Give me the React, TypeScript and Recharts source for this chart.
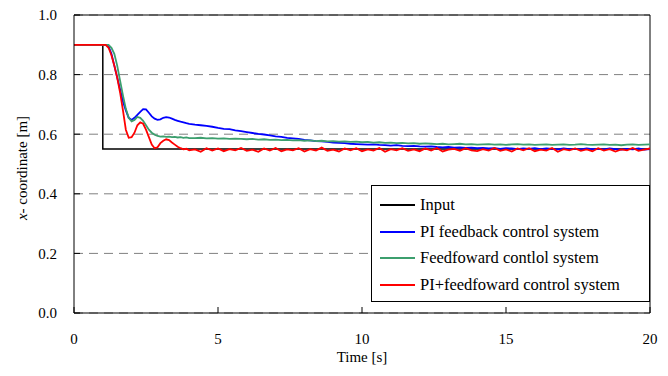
import { LineChart, Line, XAxis, YAxis, CartesianGrid, ReferenceLine, Legend } from 'recharts'

const FONT = 'Liberation Serif, Times New Roman, DejaVu Serif, serif'

// time axis [s]
const time = [
  0, 1, 1.1, 1.2, 1.3, 1.4, 1.5, 1.6, 1.7, 1.8, 1.9, 2, 2.1, 2.2, 2.3, 2.4, 2.5, 2.6, 2.7, 2.8, 2.9,
  3, 3.1, 3.2, 3.3, 3.4, 3.5, 3.6, 3.7, 3.8, 3.9, 4,
  4.2, 4.4, 4.6, 4.8, 5, 5.2, 5.4, 5.6, 5.8, 6, 6.2, 6.4, 6.6, 6.8, 7, 7.2, 7.4, 7.6, 7.8, 8,
  8.2, 8.4, 8.6, 8.8, 9, 9.2, 9.4, 9.6, 9.8, 10, 10.2, 10.4, 10.6, 10.8, 11, 11.2, 11.4, 11.6, 11.8, 12,
  12.2, 12.4, 12.6, 12.8, 13, 13.2, 13.4, 13.6, 13.8, 14, 14.2, 14.4, 14.6, 14.8, 15, 15.2, 15.4, 15.6, 15.8, 16,
  16.2, 16.4, 16.6, 16.8, 17, 17.2, 17.4, 17.6, 17.8, 18, 18.2, 18.4, 18.6, 18.8, 19, 19.2, 19.4, 19.6, 19.8, 20,
]

const piFeedback = [
  0.9, 0.9, 0.9, 0.895, 0.87, 0.83, 0.79, 0.75, 0.71, 0.68, 0.655, 0.648,
  0.655, 0.665, 0.675, 0.684, 0.683, 0.672, 0.66, 0.652, 0.648, 0.65,
  0.655, 0.657, 0.656, 0.652, 0.648, 0.645, 0.642, 0.64, 0.637, 0.635,
  0.632, 0.63, 0.628, 0.625, 0.621, 0.618, 0.617, 0.613, 0.61, 0.607,
  0.604, 0.601, 0.599, 0.596, 0.593, 0.591, 0.588, 0.586, 0.584, 0.581,
  0.579, 0.577, 0.576, 0.574, 0.572, 0.571, 0.57, 0.568, 0.567, 0.566,
  0.565, 0.566, 0.564, 0.563, 0.562, 0.563, 0.561, 0.56, 0.561, 0.559,
  0.558, 0.559, 0.557, 0.556, 0.557, 0.555, 0.556, 0.554, 0.555, 0.553,
  0.554, 0.552, 0.553, 0.551, 0.553, 0.552, 0.55, 0.552, 0.551, 0.553,
  0.55, 0.552, 0.551, 0.549, 0.552, 0.55, 0.551, 0.549, 0.552, 0.55,
  0.551, 0.549, 0.552, 0.55, 0.548, 0.551, 0.549, 0.552, 0.548, 0.55,
]

const feedforward = [
  0.9, 0.9, 0.9, 0.9, 0.89, 0.87, 0.83, 0.78, 0.73, 0.685, 0.655, 0.643,
  0.648, 0.658, 0.655, 0.645, 0.63, 0.615, 0.605, 0.598, 0.594, 0.592,
  0.593, 0.591, 0.592, 0.59, 0.591, 0.589, 0.59, 0.588, 0.589, 0.587,
  0.587, 0.588, 0.586, 0.587, 0.585, 0.586, 0.584, 0.585, 0.584, 0.583,
  0.584, 0.582, 0.583, 0.581, 0.582, 0.58, 0.581, 0.579, 0.58, 0.578,
  0.579, 0.577, 0.578, 0.576, 0.577, 0.575, 0.576, 0.574, 0.575, 0.573,
  0.574, 0.572, 0.573, 0.571, 0.572, 0.57, 0.571, 0.569, 0.57, 0.568,
  0.569, 0.568, 0.567, 0.568, 0.566, 0.567, 0.568, 0.566, 0.567, 0.565,
  0.566, 0.567, 0.565, 0.566, 0.564, 0.566, 0.567, 0.565, 0.566, 0.564,
  0.565, 0.566, 0.564, 0.565, 0.566, 0.564, 0.565, 0.567, 0.565, 0.564,
  0.565, 0.566, 0.564, 0.565, 0.563, 0.565, 0.566, 0.564, 0.565, 0.566,
]

const piFeedforward = [
  0.9, 0.9, 0.9, 0.89, 0.865, 0.83, 0.79, 0.74, 0.68, 0.615, 0.588, 0.59,
  0.605, 0.63, 0.64, 0.635, 0.615, 0.59, 0.565, 0.553, 0.556, 0.57,
  0.578, 0.583, 0.58, 0.572, 0.565, 0.558, 0.553, 0.549, 0.551, 0.546,
  0.549, 0.541, 0.553, 0.545, 0.552, 0.543, 0.55, 0.546, 0.554, 0.544,
  0.548, 0.541, 0.552, 0.545, 0.554, 0.543, 0.549, 0.546, 0.553, 0.542,
  0.55, 0.545, 0.555, 0.544, 0.548, 0.542, 0.552, 0.546, 0.553, 0.543,
  0.549, 0.545, 0.554, 0.541, 0.55, 0.546, 0.553, 0.544, 0.549, 0.543,
  0.552, 0.545, 0.554, 0.542, 0.548, 0.551, 0.544, 0.553, 0.546, 0.543,
  0.55, 0.545, 0.554, 0.544, 0.549, 0.542, 0.552, 0.546, 0.553, 0.543,
  0.548, 0.545, 0.554, 0.541, 0.55, 0.546, 0.552, 0.544, 0.549, 0.543,
  0.553, 0.545, 0.55, 0.542, 0.549, 0.546, 0.554, 0.544, 0.548, 0.552,
]

// step input
const inputTime = [0, 1, 1, 20]
const inputValue = [0.9, 0.9, 0.55, 0.55]

const xTicks = [0, 5, 10, 15, 20]
const yTicks = [0, 0.2, 0.4, 0.6, 0.8, 1.0]

const seriesNames = ['Input', 'PI feedback control system', 'Feedfoward contlol system', 'PI+feedfoward control system']
const seriesColors = ['#000000', '#0000ff', '#3c9f6e', '#ff0000']

const data = time.map((t, i) => ({
  t,
  feedback: piFeedback[i],
  feedforward: feedforward[i],
  combined: piFeedforward[i],
}))
const inputData = inputTime.map((t, i) => ({ t, input: inputValue[i] }))

const YLabel = ({ viewBox }: any) => {
  const cx = viewBox.x + 22
  const cy = viewBox.y + viewBox.height / 2 + 4
  return (
    <text
      x={cx}
      y={cy}
      transform={`rotate(-90 ${cx} ${cy})`}
      textAnchor="middle"
      dominantBaseline="central"
      style={{ fontFamily: FONT }}
      fontSize={15}
      fill="#000"
    >
      <tspan fontStyle="italic">x</tspan>
      <tspan>- coordinate [m]</tspan>
    </text>
  )
}

const XLabel = ({ viewBox }: any) => (
  <text
    x={viewBox.x + viewBox.width / 2}
    y={viewBox.y + 49}
    textAnchor="middle"
    style={{ fontFamily: FONT }}
    fontSize={15}
    fill="#000"
  >
    Time [s]
  </text>
)

const LegendBox = () => (
  <div
    style={{
      border: '1.5px solid #000',
      background: '#fff',
      padding: '6px 0 6px 8px',
      fontFamily: FONT,
      fontSize: 16.5,
      color: '#000',
      boxSizing: 'border-box',
      width: 279,
      height: 117,
    }}
  >
    {seriesNames.map((name, i) => (
      <div key={name} style={{ display: 'flex', alignItems: 'center', height: 26.5, whiteSpace: 'nowrap' }}>
        <span style={{ display: 'inline-block', width: 35, height: 0, borderTop: `2px solid ${seriesColors[i]}`, marginRight: 5 }} />
        <span>{name}</span>
      </div>
    ))}
  </div>
)

const tickStyle = { fill: '#000', fontSize: 15, style: { fontFamily: FONT } }

export default function App() {
  return (
    <div style={{ position: 'absolute', left: 0, top: 0, width: 668, height: 376, background: '#fff', fontFamily: FONT }}>
      <LineChart width={668} height={376} data={data} margin={{ top: 15, right: 18, bottom: 0, left: 0 }} style={{ fontFamily: FONT }}>
        <CartesianGrid vertical={false} stroke="#808080" strokeDasharray="9 6" />
        <XAxis
          dataKey="t"
          type="number"
          domain={[0, 20]}
          ticks={xTicks}
          height={63}
          stroke="#000"
          tickSize={-6}
          tickMargin={26}
          tick={tickStyle}
          label={<XLabel />}
          allowDuplicatedCategory={false}
        />
        <YAxis
          type="number"
          domain={[0, 1]}
          ticks={yTicks}
          width={74}
          stroke="#000"
          tickSize={-6}
          tickMargin={23}
          tick={tickStyle}
          tickFormatter={(v: number) => v.toFixed(1)}
          label={<YLabel />}
        />
        <ReferenceLine y={1} stroke="#000" strokeWidth={1} />
        <ReferenceLine x={20} stroke="#000" strokeWidth={1} />
        <Legend
          layout="horizontal"
          verticalAlign="middle"
          align="center"
          content={<LegendBox />}
          wrapperStyle={{ position: 'absolute', left: 371, top: 185, width: 279, height: 117 }}
        />
        <Line data={inputData} dataKey="input" name={seriesNames[0]} stroke={seriesColors[0]} strokeWidth={1.5} dot={false} isAnimationActive={false} />
        <Line dataKey="feedback" name={seriesNames[1]} stroke={seriesColors[1]} strokeWidth={1.8} dot={false} isAnimationActive={false} />
        <Line dataKey="feedforward" name={seriesNames[2]} stroke={seriesColors[2]} strokeWidth={1.8} dot={false} isAnimationActive={false} />
        <Line dataKey="combined" name={seriesNames[3]} stroke={seriesColors[3]} strokeWidth={1.8} dot={false} isAnimationActive={false} />
      </LineChart>
    </div>
  )
}
